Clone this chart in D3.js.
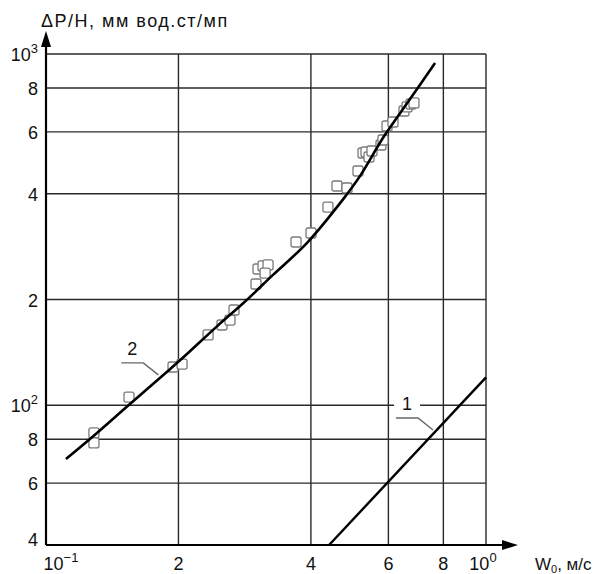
<!DOCTYPE html>
<html><head><meta charset="utf-8">
<script src="https://cdn.jsdelivr.net/npm/d3@7"></script>
<style>
body{margin:0;background:#fff}
svg{display:block}
text{font-family:"Liberation Sans",Arial,sans-serif;fill:#111}
</style>
</head><body>
<svg id="c" width="608" height="574"></svg>
<script>
// ---- data ----
const xTicks = [0.1, 0.2, 0.4, 0.6, 0.8, 1];
const xTickBase = ["10", "2", "4", "6", "8", "10"];
const xTickSup = ["−1", "", "", "", "", "0"];
const yTicks = [40, 60, 80, 100, 200, 400, 600, 800, 1000];
const yTickBase = ["4", "6", "8", "10", "2", "4", "6", "8", "10"];
const yTickSup = ["", "", "", "2", "", "", "", "", "3"];
const yTitle = "ΔP/H, мм вод.ст/мп";
const xTitleMain = "W";
const xTitleSub = "0";
const xTitleRest = ", м/с";

// curve 2 (experimental fit)
const curve2W = [0.111, 0.129, 0.154, 0.187, 0.204, 0.245, 0.283, 0.328, 0.392, 0.478, 0.517, 0.587, 0.672, 0.766];
const curve2P = [70.3, 82.3, 100, 123.5, 136, 168, 197, 235, 290, 392, 449, 584, 744, 943];
// curve 1 (straight line)
const curve1W = [0.44, 1.0];
const curve1P = [40, 120];
// measured points
const pointsW = [0.1285, 0.1285, 0.1544, 0.1944, 0.2038, 0.2335, 0.2512, 0.2619, 0.2675, 0.3001, 0.3033, 0.3113, 0.3196, 0.3147,
  0.3700, 0.4002, 0.4373, 0.4585, 0.4831, 0.5118, 0.5254, 0.5337, 0.5421, 0.5507, 0.5772, 0.5833, 0.5957, 0.6146, 0.6511, 0.6614, 0.6752, 0.6860];
const pointsP = [83.4, 78.1, 105.5, 128.5, 131.0, 158.5, 169.2, 174.8, 186.7, 221.4, 244.3, 249.2, 250.8, 237.9,
  291.6, 309.3, 366.7, 420.9, 415.4, 464.4, 522.6, 526.0, 509.1, 529.5, 550.7, 569.1, 623.7, 640.3, 688.3, 706.6, 720.6, 725.4];
const seriesLabels = ["1", "2"];
const labelAnchorW = [0.758, 0.18];
const labelAnchorP = [85, 122];

// ---- chart ----
const svg = d3.select("#c");
const x = d3.scaleLog().domain([0.1, 1]).range([46, 486]);
const y = d3.scaleLog().domain([40, 1000]).range([545, 54]);
const x0 = x(0.1), x1 = x(1), y0 = y(40), y1 = y(1000);

const grid = svg.append("g").attr("stroke", "#2a2a2a").attr("stroke-width", 1.4);
grid.selectAll("line.h").data(yTicks.slice(1)).join("line")
  .attr("x1", x0).attr("x2", x1).attr("y1", d => y(d)).attr("y2", d => y(d));
grid.selectAll("line.v").data(xTicks.slice(1)).join("line")
  .attr("y1", y0).attr("y2", y1).attr("x1", d => x(d)).attr("x2", d => x(d));

// axes with arrows
svg.append("line").attr("x1", x0).attr("x2", x1 + 20).attr("y1", y0).attr("y2", y0)
  .attr("stroke", "#000").attr("stroke-width", 2.2);
svg.append("path").attr("d", `M${x1 + 32},${y0} L${x1 + 16},${y0 - 5} L${x1 + 16},${y0 + 5} Z`).attr("fill", "#000");
svg.append("line").attr("x1", x0).attr("x2", x0).attr("y1", y0).attr("y2", y1 - 10)
  .attr("stroke", "#000").attr("stroke-width", 2.2);
svg.append("path").attr("d", `M${x0},${y1 - 23} L${x0 - 5},${y1 - 7} L${x0 + 5},${y1 - 7} Z`).attr("fill", "#000");

// y tick labels
const yl = svg.append("g").attr("font-size", 18).attr("text-anchor", "end");
yTicks.forEach((t, i) => {
  const tx = yl.append("text").attr("x", 38).attr("y", y(t) + (i === 0 ? 1 : 7));
  tx.append("tspan").text(yTickBase[i]);
  if (yTickSup[i]) tx.append("tspan").attr("font-size", 13).attr("dy", -8).text(yTickSup[i]);
});
// x tick labels
const xl = svg.append("g").attr("font-size", 18).attr("text-anchor", "middle");
xTicks.forEach((t, i) => {
  let cx = x(t);
  if (i === 0) cx += 15;
  if (i === xTicks.length - 1) cx -= 3;
  const tx = xl.append("text").attr("x", cx).attr("y", y0 + 25);
  tx.append("tspan").text(xTickBase[i]);
  if (xTickSup[i]) tx.append("tspan").attr("font-size", 13).attr("dy", -8).text(xTickSup[i]);
});

// titles
svg.append("text").attr("x", 41).attr("y", 27).attr("font-size", 18).attr("letter-spacing", 1.5).text(yTitle);
const xt = svg.append("text").attr("x", 535).attr("y", y0 + 25).attr("font-size", 17);
xt.append("tspan").text(xTitleMain);
xt.append("tspan").attr("font-size", 11).attr("dy", 3).text(xTitleSub);
xt.append("tspan").attr("dy", -3).text(xTitleRest);

// markers
const pts = pointsW.map((w, i) => [w, pointsP[i]]);
svg.append("g").selectAll("rect").data(pts).join("rect")
  .attr("x", d => x(d[0]) - 5).attr("y", d => y(d[1]) - 5)
  .attr("width", 10).attr("height", 10).attr("rx", 2)
  .attr("fill", "#fff").attr("stroke", "#7a7a7a").attr("stroke-width", 1.3);

// curves
const line = d3.line().x(d => x(d[0])).y(d => y(d[1]));
svg.append("path").datum(curve2W.map((w, i) => [w, curve2P[i]]))
  .attr("d", line.curve(d3.curveCatmullRom.alpha(0.5)))
  .attr("fill", "none").attr("stroke", "#000").attr("stroke-width", 2.6);
svg.append("path").datum(curve1W.map((w, i) => [w, curve1P[i]]))
  .attr("d", d3.line().x(d => x(d[0])).y(d => y(d[1])))
  .attr("fill", "none").attr("stroke", "#000").attr("stroke-width", 2.4);

// series labels with leader lines
seriesLabels.forEach((lab, i) => {
  const ax = x(labelAnchorW[i]), ay = y(labelAnchorP[i]);
  const lx = ax - 26, ly = ay - 21;
  svg.append("rect").attr("x", lx - 13).attr("y", ly - 10).attr("width", 26).attr("height", 20).attr("fill", "#fff");
  svg.append("path").attr("d", `M${ax},${ay} L${ax - 15},${ay - 12} L${ax - 37},${ay - 12}`)
    .attr("fill", "none").attr("stroke", "#666").attr("stroke-width", 1.4);
  svg.append("text").attr("x", lx).attr("y", ly + 1).attr("font-size", 18).attr("text-anchor", "middle").text(lab);
});
</script>
</body></html>
